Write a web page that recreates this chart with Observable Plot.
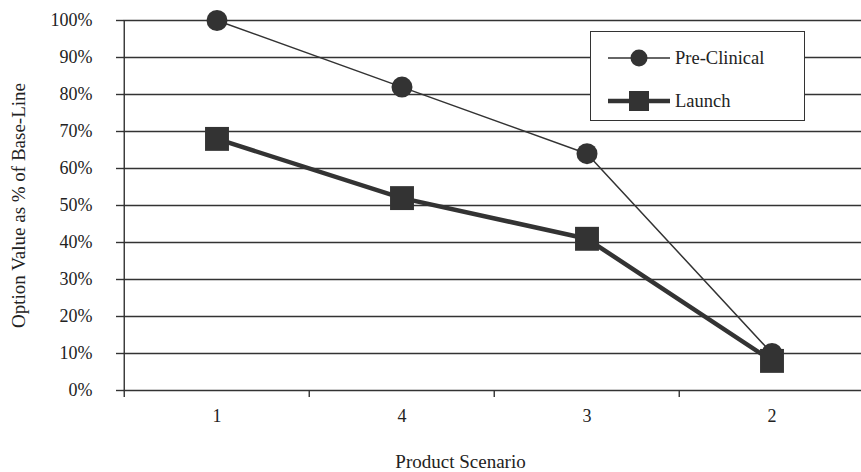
<!DOCTYPE html>
<html>
<head>
<meta charset="utf-8">
<script src="https://cdn.jsdelivr.net/npm/d3@7"></script>
<script src="https://cdn.jsdelivr.net/npm/@observablehq/plot@0.6"></script>
<style>
  html, body { margin: 0; padding: 0; background: #fff; }
  #wrap { position: relative; width: 861px; height: 472px; overflow: hidden; }
  #wrap svg, #wrap svg g, #wrap svg text { font-family: "Liberation Serif", serif !important; }
  #wrap svg g[aria-label$="tick label"] { font-size: 18px !important; }
  #wrap svg g[aria-label$="tick label"] text { font-size: 18px !important; fill: #222; }
  #legend { position: absolute; left: 590px; top: 31px; width: 213px; height: 88px;
    border: 1.5px solid #333; background: #fff; font-family: "Liberation Serif", serif; font-size: 18.5px; color: #222; }
  .row { position: absolute; left: 0; display: flex; align-items: center; }
  .row svg { display: block; }
  .row span { margin-left: 5px; }
</style>
</head>
<body>
<div id="wrap"></div>
<script>
const scenarios = ["1", "4", "3", "2"];
const preClinical = [100, 82, 64, 10];
const launch = [68, 52, 41, 8];
const yTicks = [0, 10, 20, 30, 40, 50, 60, 70, 80, 90, 100];
const seriesNames = ["Pre-Clinical", "Launch"];

const preData = scenarios.map((s, i) => ({scenario: s, value: preClinical[i]}));
const launchData = scenarios.map((s, i) => ({scenario: s, value: launch[i]}));

const xRange = [123, 865];
const halfBand = (xRange[1] - xRange[0]) / scenarios.length / 2;
const ink = "#333";

const chart = Plot.plot({
  width: 861,
  height: 472,
  marginLeft: 123,
  marginRight: 0,
  marginTop: 20,
  marginBottom: 82,
  style: "font-family: 'Liberation Serif', serif; font-size: 18px; color: #222; background: #fff; overflow: hidden;",
  x: {type: "band", domain: scenarios, range: xRange, padding: 0},
  y: {domain: [0, 100], range: [390, 20]},
  marks: [
    Plot.gridY(yTicks, {stroke: ink, strokeOpacity: 1, strokeWidth: 1.4}),
    Plot.axisY(yTicks, {tickSize: 7, tickPadding: 24, stroke: ink, strokeWidth: 1.4, tickFormat: d => d + "%", label: null, fontSize: 18}),
    Plot.axisX({tickSize: 0, tickPadding: 19, label: null, fontSize: 18}),
    Plot.ruleX([scenarios[0]], {x: d => d, dx: -halfBand, y1: -1.9, y2: 100, stroke: ink, strokeWidth: 1.4}),
    Plot.ruleX(scenarios.slice(1), {x: d => d, dx: -halfBand, y1: -1.9, y2: 0, stroke: ink, strokeWidth: 1.4}),
    Plot.line(preData, {x: "scenario", y: "value", stroke: ink, strokeWidth: 1.5}),
    Plot.line(launchData, {x: "scenario", y: "value", stroke: ink, strokeWidth: 4.5}),
    Plot.dot(preData, {x: "scenario", y: "value", r: 10.5, fill: ink, symbol: "circle"}),
    Plot.dot(launchData, {x: "scenario", y: "value", r: 13.5, fill: ink, symbol: "square"}),
    Plot.text(["Option Value as % of Base-Line"], {frameAnchor: "left", dx: -105, rotate: -90, textAnchor: "middle", lineAnchor: "middle", text: d => d, fontSize: 19, fill: "#222"}),
    Plot.text(["Product Scenario"], {frameAnchor: "bottom", dx: -32, dy: 71, textAnchor: "middle", lineAnchor: "middle", text: d => d, fontSize: 19, fill: "#222"})
  ]
});

const wrap = document.getElementById("wrap");
wrap.appendChild(chart);

const legend = document.createElement("div");
legend.id = "legend";
const rows = [
  {name: seriesNames[0], top: 12, sw: 1.5, marker: '<circle cx="31" cy="14" r="8.5" fill="#333"/>'},
  {name: seriesNames[1], top: 55, sw: 4.5, marker: '<rect x="21" y="4" width="20" height="20" fill="#333"/>'}
];
rows.forEach(r => {
  const row = document.createElement("div");
  row.className = "row";
  row.style.top = r.top + "px";
  row.style.left = "17px";
  row.innerHTML = `<svg width="62" height="28"><line x1="0" x2="62" y1="14" y2="14" stroke="#333" stroke-width="${r.sw}"/>${r.marker}</svg><span>${r.name}</span>`;
  legend.appendChild(row);
});
wrap.appendChild(legend);
</script>
</body>
</html>
